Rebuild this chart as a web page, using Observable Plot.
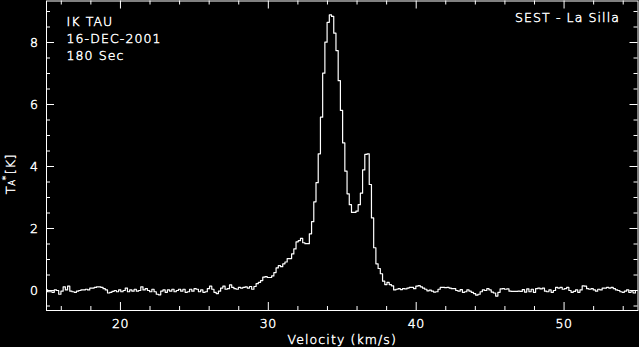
<!DOCTYPE html>
<html>
<head>
<meta charset="utf-8">
<script src="https://cdn.jsdelivr.net/npm/d3@7"></script>
<script src="https://cdn.jsdelivr.net/npm/@observablehq/plot@0.6"></script>
<style>
  html, body { margin: 0; padding: 0; background: #000; }
  #chart svg { display: block; }
  #chart svg text { font-weight: 200; stroke: white; stroke-width: 0.45px; }
  #chart g[aria-label="text"] text { letter-spacing: 1.1px; }
  #chart g[aria-label="x-axis tick label"] text,
  #chart g[aria-label="y-axis tick label"] text { letter-spacing: 0.5px; }
</style>
</head>
<body>
<div id="chart"></div>
<script>
// ---- Data ----
const channelStart = 15.0;   // km/s, centre of first channel
const channelWidth = 0.15;   // km/s
// Antenna temperature T_A* [K], channel by channel
const baselineLeft = [
  0.02,-0.04,-0.04,-0.06,0.02,0.0,-0.12,-0.02,0.12,0.02,
  0.14,-0.02,-0.04,-0.06,-0.02,0.0,0.02,0.02,0.04,0.02,
  0.08,0.08,0.10,0.12,0.12,0.10,0.06,0.02,-0.08,-0.06,
  -0.03,0.0,-0.04,0.02,-0.04,0.0,0.08,-0.04,0.02,-0.02,
  0.04,-0.02,0.0,0.12,0.02,0.06,0.0,-0.04,0.04,-0.04,
  -0.12,-0.14,-0.02,0.02,-0.06,0.02,-0.02,0.04,-0.04,0.0,
  0.04,-0.02,0.04,-0.06,-0.04,0.04,-0.02,0.06,0.04,-0.04,
  0.02,-0.06,-0.04,0.06,0.14,0.04,-0.06,-0.10,-0.02,0.08,
  0.14,0.04,0.06,0.18,0.10,0.06,0.04,0.10,0.08,0.10,
  0.12,0.08,0.13,0.04,0.13,0.22,0.26,0.32
];
const lineProfile = [
  0.43,0.45,0.42,0.42,0.47,0.58,0.73,0.80,0.77,0.86,
  0.92,1.03,1.03,1.18,1.34,1.57,1.61,1.68,1.54,1.51,
  1.51,1.83,2.22,2.86,3.48,4.41,5.59,7.01,8.01,8.65,
  8.89,8.84,8.30,7.74,6.77,5.81,4.76,3.85,3.12,2.77,
  2.52,2.52,2.56,2.77,3.14,3.89,4.39,4.41,3.42,2.34,
  1.38,0.86,0.71,0.54,0.30,0.19,0.26,0.19,0.15,0.02
];
const baselineRight = [
  0.04,0.06,0.03,0.06,0.05,0.08,0.10,0.10,0.06,0.14,
  0.16,0.12,0.08,0.04,-0.01,0.01,-0.02,-0.05,-0.04,0.04,
  0.10,0.10,0.09,0.10,0.08,0.06,0.06,0.0,-0.02,0.03,
  -0.06,-0.04,0.02,-0.02,-0.06,-0.10,-0.15,-0.12,-0.04,0.02,
  0.0,0.06,0.02,-0.05,-0.08,-0.18,-0.06,0.05,0.06,0.04,
  0.05,-0.02,-0.03,-0.03,-0.03,-0.02,-0.03,0.03,-0.05,0.05,
  -0.04,0.04,-0.06,0.06,0.08,0.05,0.08,-0.02,-0.04,0.02,
  -0.06,0.0,0.10,0.08,0.10,0.04,0.06,0.10,0.0,-0.06,
  -0.03,0.02,-0.06,0.02,0.15,0.14,0.06,0.04,0.06,0.02,
  -0.02,0.04,0.02,0.08,0.08,0.10,0.08,0.10,0.06,0.02,
  0.0,-0.04,-0.06,-0.02,0.02,-0.06,-0.04,-0.08,0.0,0.0
];
const xMajorTicks = [20, 30, 40, 50];
const xMinorTicks = [16,18,22,24,26,28,32,34,36,38,42,44,46,48,52,54];
const yMajorTicks = [0, 2, 4, 6, 8];
const yMinorTicks = [-0.5,0.5,1,1.5,2.5,3,3.5,4.5,5,5.5,6.5,7,7.5,8.5,9];
const leftNotes = ["IK TAU", "16-DEC-2001", "180 Sec"];
const rightNote = "SEST - La Silla";
const xLabel = "Velocity (km/s)";

// ---- Build table ----
const temps = [...baselineLeft, ...lineProfile, ...baselineRight];
const spectrum = temps.map((t, i) => ({v: channelStart + i * channelWidth, t}));

const W = 639, H = 347;
const mL = 46, mR = 1.5, mT = 0.5, mB = 37;
const innerH = H - mT - mB, innerW = W - mL - mR;
const majorLen = 8, minorLen = 4;

const chart = Plot.plot({
  width: W, height: H,
  marginLeft: mL, marginRight: mR, marginTop: mT, marginBottom: mB,
  style: {background: "black", color: "white", fontFamily: "DejaVu Sans", fontSize: "12.5px"},
  x: {domain: [15, 55], label: null},
  y: {domain: [-0.645, 9.339], label: null},
  marks: [
    Plot.line(spectrum, {x: "v", y: "t", curve: "step", stroke: "white", strokeWidth: 1.2, clip: true}),
    Plot.frame({stroke: "white", strokeWidth: 1}),
    // bottom & top ticks (inward)
    Plot.ruleX(xMajorTicks, {x: d => d, insetTop: innerH - majorLen, stroke: "white"}),
    Plot.ruleX(xMinorTicks, {x: d => d, insetTop: innerH - minorLen, stroke: "white"}),
    Plot.ruleX(xMajorTicks, {x: d => d, insetBottom: innerH - majorLen, stroke: "white"}),
    Plot.ruleX(xMinorTicks, {x: d => d, insetBottom: innerH - minorLen, stroke: "white"}),
    // left & right ticks (inward)
    Plot.ruleY(yMajorTicks, {y: d => d, insetRight: innerW - majorLen, stroke: "white"}),
    Plot.ruleY(yMinorTicks, {y: d => d, insetRight: innerW - minorLen, stroke: "white"}),
    Plot.ruleY(yMajorTicks, {y: d => d, insetLeft: innerW - majorLen, stroke: "white"}),
    Plot.ruleY(yMinorTicks, {y: d => d, insetLeft: innerW - minorLen, stroke: "white"}),
    Plot.axisX({ticks: xMajorTicks, tickSize: 0, tickPadding: 9, label: null, fill: "white"}),
    Plot.axisY({ticks: yMajorTicks, tickSize: 0, tickPadding: 8, label: null, fill: "white"}),
    Plot.text([leftNotes.join("\n")], {frameAnchor: "top-left", textAnchor: "start", lineAnchor: "top",
      dx: 20, dy: 12.6, lineHeight: 1.38, fill: "white"}),
    Plot.text([rightNote], {frameAnchor: "top-right", textAnchor: "end", lineAnchor: "top",
      dx: -18, dy: 12, fill: "white"}),
    Plot.text([xLabel], {frameAnchor: "bottom", lineAnchor: "top", dy: 24.4, fill: "white"})
  ]
});

document.getElementById("chart").appendChild(chart);

// y-axis title with subscript/superscript
const svg = d3.select(chart);
const yl = svg.append("text")
  .attr("transform", "translate(14.5,174) rotate(-90)")
  .attr("fill", "white")
  .attr("font-family", "DejaVu Sans")
  .attr("font-size", 13)
  .style("letter-spacing", "0.6px");
yl.append("tspan").text("T");
yl.append("tspan").attr("font-size", 8.5).text("A");
yl.append("tspan").attr("font-size", 9).attr("dx", -1).attr("dy", -6).text("*");
yl.append("tspan").attr("dx", 1).attr("dy", 6).text("[K]");
</script>
</body>
</html>
